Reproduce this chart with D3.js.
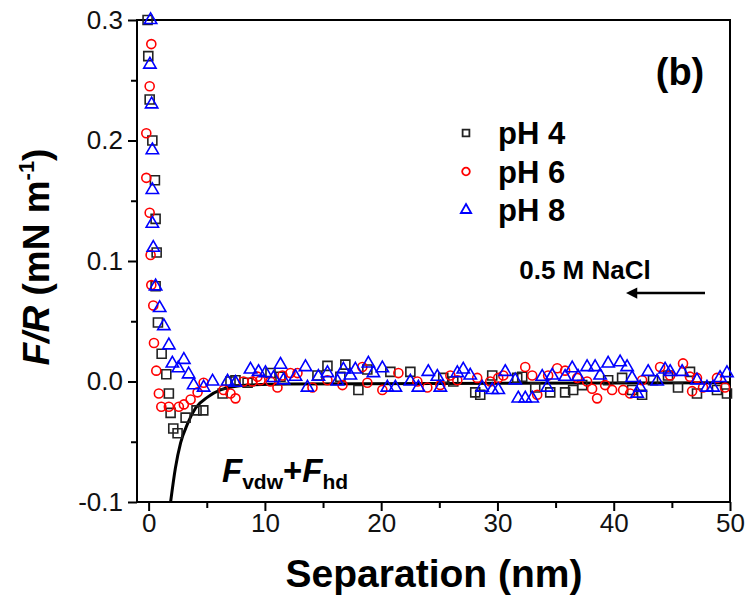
<!DOCTYPE html>
<html>
<head>
<meta charset="utf-8">
<script src="https://cdn.jsdelivr.net/npm/d3@7"></script>
<style>
  body { margin: 0; background: #fff; }
  text { font-family: "Liberation Sans", Arial, sans-serif; }
</style>
</head>
<body>
<div id="content"></div>
<script>
// Data: [separation (nm), F/R (mN/m)].
var ph4 = [
  [-0.09, 0.300], [-0.03, 0.270], [0.09, 0.234], [0.32, 0.200], [0.54, 0.167],
  [0.60, 0.135], [0.69, 0.107], [0.60, 0.079], [0.80, 0.049], [1.12, 0.023],
  [1.52, 0.006], [1.74, -0.010], [1.89, -0.026], [2.12, -0.039], [2.49, -0.043],
  [3.18, -0.030], [4.12, -0.024], [4.70, -0.024], [6.36, -0.010], [7.04, 0.000],
  [7.47, 0.001], [8.51, -0.001], [10.48, 0.007], [11.34, 0.004], [14.52, 0.005],
  [15.38, 0.013], [16.49, 0.004], [16.92, 0.014], [18.04, -0.007], [18.81, 0.010],
  [20.79, 0.008], [22.51, 0.008], [25.34, 0.003], [26.20, 0.000], [28.09, -0.009],
  [28.52, -0.011], [29.55, 0.005], [31.70, 0.003], [32.13, 0.004], [33.25, -0.005],
  [34.54, -0.009], [35.82, -0.009], [36.51, -0.007], [37.29, -0.003], [39.52, 0.001],
  [40.72, 0.003], [41.58, -0.007], [42.44, -0.011], [43.38, 0.001], [44.67, 0.005],
  [45.53, -0.005], [46.56, 0.008], [47.16, -0.010], [48.88, -0.007], [49.74, -0.010]
];
var ph6 = [
  [0.23, 0.280], [0.09, 0.245], [-0.20, 0.206], [-0.20, 0.169], [0.09, 0.140],
  [0.17, 0.105], [0.23, 0.080], [0.40, 0.063], [0.46, 0.032], [0.66, 0.009],
  [0.88, -0.010], [1.09, -0.021], [1.74, -0.021], [2.60, -0.021], [3.03, -0.019],
  [3.61, -0.015], [4.21, -0.009], [4.73, -0.001], [6.44, -0.007], [7.04, -0.010],
  [7.47, -0.014], [8.16, 0.000], [8.93, 0.000], [9.36, 0.004], [9.62, 0.001],
  [10.48, 0.000], [11.08, -0.005], [11.51, 0.005], [12.20, 0.007], [12.80, 0.007],
  [14.09, -0.005], [15.38, 0.001], [16.67, -0.003], [18.38, 0.012], [18.81, -0.001],
  [20.10, -0.007], [21.48, 0.007], [23.11, 0.000], [23.97, -0.005], [25.09, -0.003],
  [25.95, 0.005], [26.55, 0.001], [28.26, 0.003], [29.38, 0.000], [30.07, 0.003],
  [30.50, 0.005], [32.39, 0.012], [32.99, 0.005], [33.42, -0.011], [34.36, 0.005],
  [35.14, 0.011], [35.82, 0.009], [36.86, 0.003], [37.71, 0.000], [38.14, -0.006],
  [38.57, -0.014], [39.26, -0.003], [39.86, -0.007], [40.81, -0.007], [41.41, -0.010],
  [42.44, 0.001], [43.99, 0.012], [44.85, 0.005], [45.96, 0.015], [46.56, 0.004],
  [46.74, -0.008], [47.16, 0.003], [47.68, -0.005], [48.88, 0.003], [49.57, -0.005]
];
var ph8 = [
  [0.17, 0.300], [0.11, 0.263], [0.26, 0.230], [0.32, 0.192], [0.32, 0.159],
  [0.32, 0.131], [0.40, 0.111], [0.60, 0.079], [0.95, 0.061], [1.31, 0.046],
  [1.74, 0.030], [2.04, 0.015], [2.55, 0.011], [3.03, 0.018], [3.44, 0.006],
  [3.87, -0.003], [4.73, -0.005], [5.50, 0.000], [6.79, 0.000], [7.47, -0.001],
  [8.76, 0.010], [9.45, 0.008], [10.05, 0.007], [10.74, 0.003], [11.34, 0.014],
  [11.60, 0.001], [12.63, 0.004], [13.49, 0.012], [13.66, -0.005], [14.60, 0.004],
  [15.38, 0.007], [16.24, 0.000], [16.75, 0.010], [17.35, 0.005], [17.78, 0.010],
  [18.90, 0.015], [19.33, 0.007], [20.10, 0.011], [20.53, -0.005], [21.22, -0.005],
  [22.51, 0.000], [23.20, -0.005], [24.05, 0.008], [24.83, 0.004], [25.09, -0.005],
  [26.55, 0.007], [27.06, 0.010], [27.66, 0.005], [28.69, -0.005], [29.55, -0.007],
  [30.07, -0.007], [30.67, 0.008], [31.53, 0.001], [31.79, -0.014], [32.39, -0.014],
  [32.99, -0.014], [33.85, 0.004], [34.28, -0.005], [34.71, 0.005], [35.82, 0.004],
  [36.43, 0.011], [36.94, 0.004], [37.71, 0.012], [38.40, 0.012], [38.83, 0.005],
  [39.52, 0.015], [40.55, 0.016], [41.15, 0.012], [41.58, 0.003], [42.01, -0.010],
  [42.27, -0.005], [42.96, 0.008], [43.73, 0.000], [44.42, 0.010], [44.85, 0.008],
  [45.88, 0.008], [47.16, 0.001], [48.02, -0.005], [48.54, -0.005], [49.14, 0.003],
  [49.74, 0.007]
];
// Fitted Fvdw + Fhd curve.
var fit = [
  [1.89, -0.100], [2.3, -0.072], [2.75, -0.051], [3.35, -0.035], [4.04, -0.022],
  [5.07, -0.013], [6.19, -0.007], [8.5, -0.003], [12, -0.002], [50, -0.001]
];
var legendLabels = ['pH 4', 'pH 6', 'pH 8'];
var xTicks = [0, 10, 20, 30, 40, 50];
var yTicks = [-0.1, 0.0, 0.1, 0.2, 0.3];

// SVG Dimensions.
var W = 746, H = 602;
var margin = {left : 137, right : 16, top : 20, bottom : 100};
var width = W - margin.left - margin.right;
var height = H - margin.top - margin.bottom;

var svg = d3.select('#content')
              .append('svg')
              .attr('width', W)
              .attr('height', H);

var g = svg.append('g').attr('transform', 'translate(' + margin.left + ',' + margin.top + ')');

var x = d3.scaleLinear().domain([ -1, 50 ]).range([ 0, width ]);
var y = d3.scaleLinear().domain([ -0.1, 0.3 ]).range([ height, 0 ]);

// Minor ticks first, then major ticks with labels.
g.append('g')
    .attr('transform', 'translate(0,' + height + ')')
    .call(d3.axisBottom(x).tickValues([5, 15, 25, 35, 45]).tickSize(6).tickFormat(''))
    .call(function(a) { a.select('.domain').remove(); });
g.append('g')
    .call(d3.axisLeft(y).tickValues([-0.05, 0.05, 0.15, 0.25]).tickSize(6).tickFormat(''))
    .call(function(a) { a.select('.domain').remove(); });

var xAxis = g.append('g')
    .attr('transform', 'translate(0,' + height + ')')
    .call(d3.axisBottom(x).tickValues(xTicks).tickSize(9).tickPadding(3).tickSizeOuter(0));
var yAxis = g.append('g')
    .call(d3.axisLeft(y).tickValues(yTicks).tickSize(9).tickPadding(5).tickSizeOuter(0)
          .tickFormat(function(d) { return d.toFixed(1); }));

g.selectAll('.tick line').attr('stroke', '#000').attr('stroke-width', 2);
g.selectAll('.tick text').attr('font-size', 26).attr('fill', '#111')
    .style('font-family', '"Liberation Sans", Arial, sans-serif');

// Frame.
g.append('rect')
    .attr('width', width).attr('height', height)
    .attr('fill', 'none').attr('stroke', '#000').attr('stroke-width', 2);
xAxis.select('.domain').remove();
yAxis.select('.domain').remove();

// Fit line.
g.append('path')
    .datum(fit)
    .attr('fill', 'none')
    .attr('stroke', '#000')
    .attr('stroke-width', 3)
    .attr('d', d3.line()
                   .curve(d3.curveMonotoneX)
                   .x(function(d) { return x(d[0]); })
                   .y(function(d) { return y(d[1]); }));

var symSquare = d3.symbol().type(d3.symbolSquare).size(81);
var symCircle = d3.symbol().type(d3.symbolCircle).size(64);
var symTri = d3.symbol().type(d3.symbolTriangle).size(66);
var series = [
  {data : ph4, color : '#222', sym : symSquare},
  {data : ph6, color : '#ff0000', sym : symCircle},
  {data : ph8, color : '#0000ff', sym : symTri}
];

series.forEach(function(s) {
  g.append('g').selectAll('path')
      .data(s.data)
      .enter().append('path')
      .attr('transform', function(d) { return 'translate(' + x(d[0]) + ',' + y(d[1]) + ')'; })
      .attr('d', s.sym)
      .attr('fill', 'none')
      .attr('stroke', s.color)
      .attr('stroke-width', 1.6);
});

// Legend.
var legend = svg.append('g').attr('transform', 'translate(466,133)');
series.forEach(function(s, i) {
  legend.append('path')
      .attr('transform', 'translate(0,' + (i * 38.5) + ')')
      .attr('d', d3.symbol().type(s.sym.type()).size(46))
      .attr('fill', 'none').attr('stroke', s.color).attr('stroke-width', 1.8);
  legend.append('text')
      .attr('x', 32).attr('y', i * 38.5 + 11)
      .attr('font-size', 31).attr('font-weight', 'bold')
      .text(legendLabels[i]);
});

// Annotations.
svg.append('text').attr('x', 680).attr('y', 85).attr('text-anchor', 'middle')
    .attr('font-size', 38).attr('font-weight', 'bold').text('(b)');
svg.append('text').attr('x', 585).attr('y', 279).attr('text-anchor', 'middle')
    .attr('font-size', 26).attr('font-weight', 'bold').text('0.5 M NaCl');

svg.append('defs').append('marker')
    .attr('id', 'head').attr('viewBox', '0 0 10 10')
    .attr('refX', 2).attr('refY', 5)
    .attr('markerWidth', 5.5).attr('markerHeight', 4.5).attr('orient', 'auto')
  .append('path').attr('d', 'M0,0 L10,5 L0,10 Z').attr('fill', '#000');
svg.append('line')
    .attr('x1', 705).attr('y1', 293).attr('x2', 635).attr('y2', 293)
    .attr('stroke', '#000').attr('stroke-width', 2.5)
    .attr('marker-end', 'url(#head)');

var fl = svg.append('text').attr('x', 222).attr('y', 482)
    .attr('font-size', 33).attr('font-weight', 'bold');
fl.append('tspan').attr('font-style', 'italic').text('F');
fl.append('tspan').attr('font-size', 21).attr('dy', 7).text('vdw');
fl.append('tspan').attr('dy', -7).text('+');
fl.append('tspan').attr('font-style', 'italic').text('F');
fl.append('tspan').attr('font-size', 21).attr('dy', 7).text('hd');

// Axis titles.
svg.append('text')
    .attr('x', 434).attr('y', 587)
    .attr('text-anchor', 'middle')
    .attr('font-size', 39).attr('font-weight', 'bold')
    .text('Separation (nm)');

var yl = svg.append('text')
    .attr('transform', 'translate(49,257) rotate(-90)')
    .attr('text-anchor', 'middle')
    .attr('font-size', 37).attr('font-weight', 'bold');
yl.append('tspan').attr('font-style', 'italic').text('F/R');
yl.append('tspan').text(' (mN m');
yl.append('tspan').attr('font-size', 22).attr('dy', -15).text('-1');
yl.append('tspan').attr('dy', 15).text(')');
</script>
</body>
</html>
